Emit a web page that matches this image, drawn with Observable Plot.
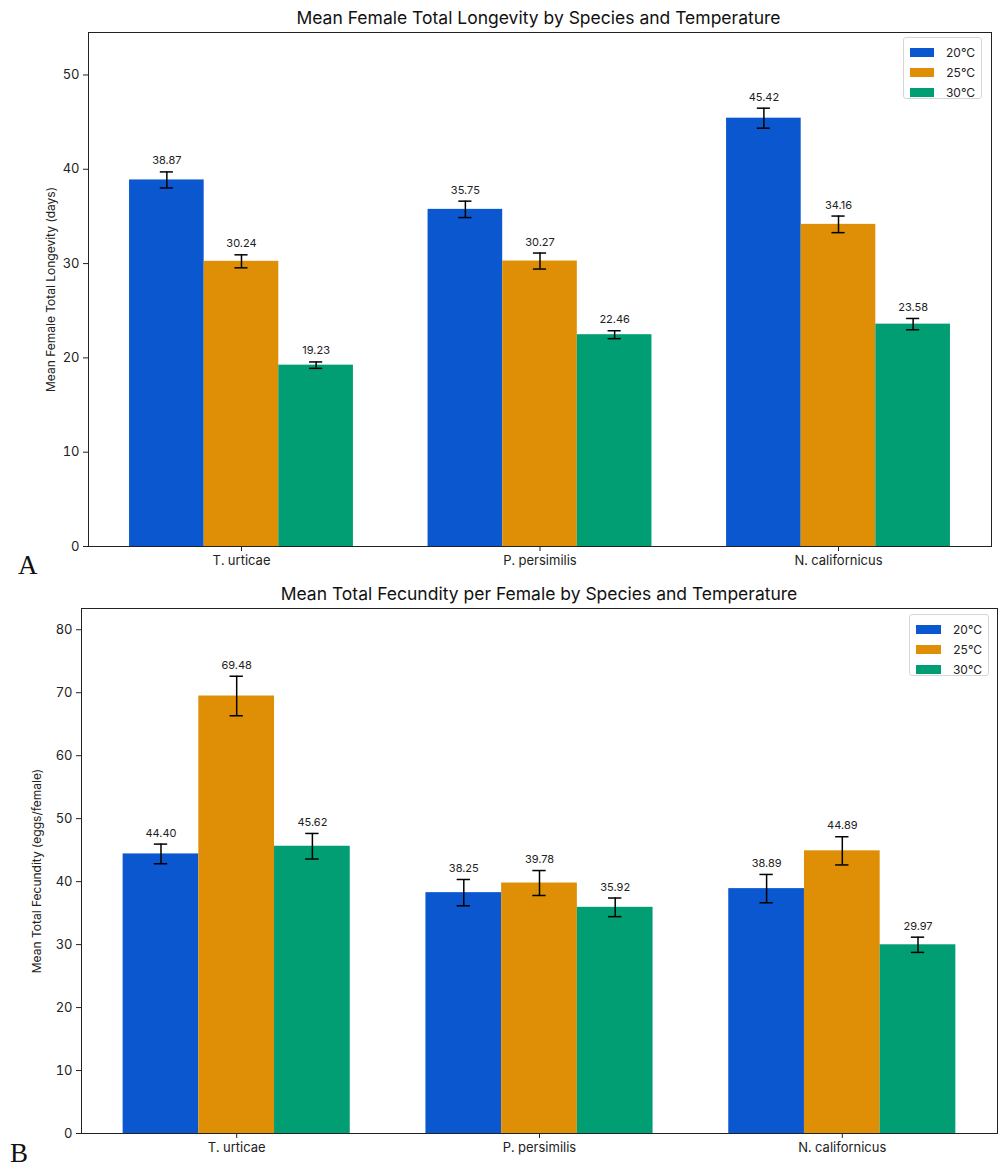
<!DOCTYPE html>
<html>
<head>
<meta charset="utf-8">
<script src="https://cdn.jsdelivr.net/npm/d3@7"></script>
<script src="https://cdn.jsdelivr.net/npm/@observablehq/plot@0.6"></script>
<style>
  body { margin: 0; background: #fff; }
  #page { position: relative; width: 1005px; height: 1172px; font-family: Inter, "Open Sans", sans-serif; color: #222; }
  .panel { position: absolute; left: 0; }
  .title { position: absolute; left: 0; text-align: center; font-size: 17.5px; color: #111; transform: translateY(-50%); white-space: nowrap; }
  .legend { position: absolute; background: #fff; border: 1px solid #d6d6d6; border-radius: 3px; font-size: 12px; padding: 4px 6px; box-sizing: border-box; }
  .legend .row { display: flex; align-items: center; height: 20px; }
  .legend .sw { width: 26px; height: 9px; margin-right: 12px; }
  .tag { position: absolute; font-family: "Liberation Serif", "DejaVu Serif", serif; font-size: 27px; color: #111; line-height: 1; }
</style>
</head>
<body>
<div id="page"></div>
<script>
// Species groups, temperature series and colours
const species = ["T. urticae", "P. persimilis", "N. californicus"];
const temps = ["20°C", "25°C", "30°C"];
const tempColors = ["#0b57d0", "#de8f05", "#029e73"];

// Mean female total longevity (days) and its standard error, rows = species, cols = temperature
const longevityMean = [
  [38.87, 30.24, 19.23],
  [35.75, 30.27, 22.46],
  [45.42, 34.16, 23.58]
];
const longevityErr = [
  [0.85, 0.69, 0.34],
  [0.87, 0.85, 0.42],
  [1.06, 0.88, 0.60]
];

// Mean total fecundity (eggs/female) and its standard error
const fecundityMean = [
  [44.40, 69.48, 45.62],
  [38.25, 39.78, 35.92],
  [38.89, 44.89, 29.97]
];
const fecundityErr = [
  [1.56, 3.14, 2.03],
  [2.09, 1.98, 1.48],
  [2.25, 2.24, 1.21]
];

const barWidth = 0.25;

function rowsFor(means, errs) {
  const rows = [];
  species.forEach((s, i) => {
    temps.forEach((t, j) => {
      const xc = i + (j - 1) * barWidth;
      rows.push({species: s, temp: t, i, j, xc, mean: means[i][j], err: errs[i][j]});
    });
  });
  return rows;
}

function groupedBars({means, errs, yLabel, width, height, margins, labelOffset}) {
  const rows = rowsFor(means, errs);
  const ymax = d3.max(rows, d => d.mean) * 1.2;
  const pad = (species.length - 1 + 3 * barWidth) * 0.05;
  const lo = -1.5 * barWidth - pad, hi = species.length - 1 + 1.5 * barWidth + pad;
  const capHalf = 0.022;
  return Plot.plot({
    width, height,
    ...margins,
    style: {fontFamily: "Inter, 'Open Sans', sans-serif", fontSize: "13px", color: "#222", background: "transparent"},
    x: {type: "linear", domain: [lo, hi], ticks: species.map((_, i) => i), tickFormat: i => species[i], label: null, tickSize: 5, tickPadding: 4},
    y: {domain: [0, ymax], ticks: d3.range(0, ymax, 10), label: null, tickSize: 5, tickPadding: 4},
    marks: [
      Plot.rectY(rows, {x1: d => d.xc - barWidth / 2, x2: d => d.xc + barWidth / 2, y1: 0, y2: "mean", fill: d => tempColors[d.j]}),
      Plot.ruleX(rows, {x: "xc", y1: d => d.mean - d.err, y2: d => d.mean + d.err, stroke: "#000", strokeWidth: 1.5}),
      Plot.ruleY(rows, {x1: d => d.xc - capHalf, x2: d => d.xc + capHalf, y: d => d.mean + d.err, stroke: "#000", strokeWidth: 1.5}),
      Plot.ruleY(rows, {x1: d => d.xc - capHalf, x2: d => d.xc + capHalf, y: d => d.mean - d.err, stroke: "#000", strokeWidth: 1.5}),
      Plot.text(rows, {x: "xc", y: d => d.mean + d.err, text: d => d.mean.toFixed(2), dy: -11, fontSize: 11, fill: "#222"}),
      Plot.text([yLabel], {frameAnchor: "left", text: d => d, dx: -labelOffset, rotate: -90, textAnchor: "middle", fontSize: 12, fill: "#222"}),
      Plot.frame({stroke: "#222", strokeWidth: 1})
    ]
  });
}

function legend(left, top, w, h) {
  const el = document.createElement("div");
  el.className = "legend";
  Object.assign(el.style, {left: left + "px", top: top + "px", width: w + "px", height: h + "px"});
  temps.forEach((t, j) => {
    const r = document.createElement("div");
    r.className = "row";
    r.innerHTML = `<span class="sw" style="background:${tempColors[j]}"></span><span>${t}</span>`;
    el.appendChild(r);
  });
  return el;
}

function addText(cls, text, style) {
  const el = document.createElement("div");
  el.className = cls;
  el.textContent = text;
  Object.assign(el.style, style);
  page.appendChild(el);
}

const page = document.getElementById("page");

// Panel A: longevity
const a = groupedBars({
  means: longevityMean, errs: longevityErr,
  yLabel: "Mean Female Total Longevity (days)",
  width: 1005, height: 580,
  margins: {marginTop: 32, marginBottom: 34, marginLeft: 88, marginRight: 14},
  labelOffset: 37
});
a.classList.add("panel");
a.style.top = "0px";
page.appendChild(a);
addText("title", "Mean Female Total Longevity by Species and Temperature", {top: "17px", width: "1077px"});
page.appendChild(legend(903, 37, 79, 62));
addText("tag", "A", {left: "18px", top: "552px"});

// Panel B: fecundity
const b = groupedBars({
  means: fecundityMean, errs: fecundityErr,
  yLabel: "Mean Total Fecundity (eggs/female)",
  width: 1005, height: 592,
  margins: {marginTop: 28, marginBottom: 39, marginLeft: 81, marginRight: 8},
  labelOffset: 44
});
b.classList.add("panel");
b.style.top = "580px";
page.appendChild(b);
addText("title", "Mean Total Fecundity per Female by Species and Temperature", {top: "593px", width: "1078px"});
page.appendChild(legend(909, 614, 80, 62));
addText("tag", "B", {left: "10px", top: "1140px"});
</script>
</body>
</html>
